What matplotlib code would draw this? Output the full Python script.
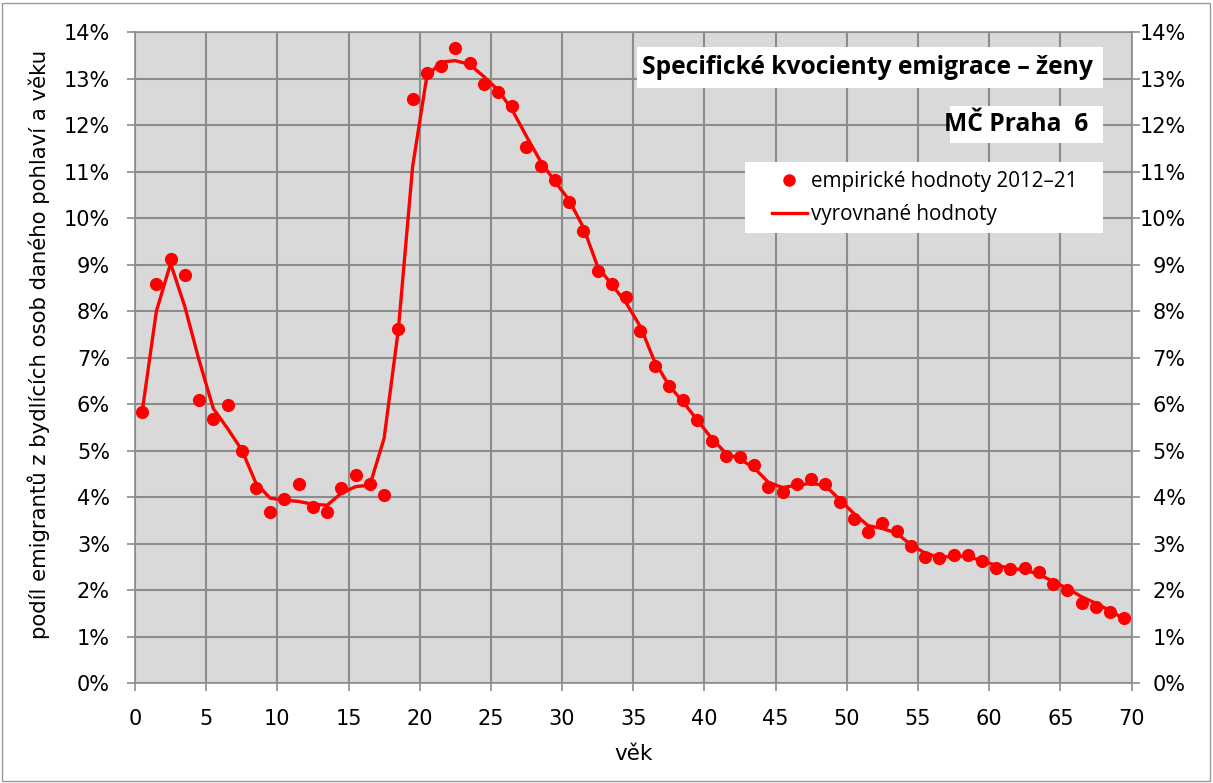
import matplotlib
matplotlib.use("Agg")
import matplotlib.pyplot as plt
from matplotlib.patches import Rectangle
from matplotlib.lines import Line2D
from matplotlib.ticker import FuncFormatter, MultipleLocator

ages = [a + 0.5 for a in range(70)]

empirical = [
    5.83, 8.58, 9.12, 8.77, 6.09, 5.68, 5.98, 4.99, 4.19, 3.69,
    3.96, 4.28, 3.80, 3.69, 4.19, 4.49, 4.28, 4.06, 7.61, 12.56,
    13.12, 13.28, 13.66, 13.33, 12.88, 12.72, 12.42, 11.53, 11.13, 10.83,
    10.34, 9.73, 8.87, 8.58, 8.31, 7.58, 6.83, 6.39, 6.09, 5.66,
    5.22, 4.89, 4.86, 4.70, 4.23, 4.12, 4.28, 4.39, 4.28, 3.89,
    3.53, 3.26, 3.45, 3.28, 2.96, 2.72, 2.70, 2.76, 2.76, 2.64,
    2.49, 2.46, 2.49, 2.39, 2.14, 2.01, 1.73, 1.65, 1.54, 1.40,
]

smoothed = [
    5.83, 8.00, 9.03, 8.10, 6.95, 5.91, 5.48, 5.02, 4.30, 3.98,
    3.94, 3.91, 3.85, 3.83, 4.09, 4.23, 4.26, 5.27, 7.61, 11.11,
    13.05, 13.36, 13.39, 13.31, 13.05, 12.76, 12.33, 11.76, 11.22, 10.79,
    10.39, 9.80, 8.96, 8.57, 8.18, 7.67, 6.92, 6.41, 6.05, 5.66,
    5.27, 4.95, 4.82, 4.63, 4.32, 4.21, 4.26, 4.30, 4.25, 3.95,
    3.65, 3.39, 3.33, 3.23, 2.98, 2.80, 2.71, 2.73, 2.73, 2.63,
    2.54, 2.47, 2.44, 2.34, 2.19, 2.04, 1.86, 1.72, 1.56, 1.38,
]

title = "Specifické kvocienty emigrace – ženy"
subtitle = "MČ Praha  6"
legend_labels = ["empirické hodnoty 2012–21", "vyrovnané hodnoty"]
xlabel = "věk"
ylabel = "podíl emigrantů z bydlících osob daného pohlaví a věku"

RED = "#ff0000"
GRID = "#8c8c8c"

W, H = 1213, 783
fig = plt.figure(figsize=(W / 100, H / 100), dpi=100)
fig.patch.set_facecolor("white")
fig.patches.append(Rectangle((2 / W, 2 / H), 1 - 5 / W, 1 - 5 / H, transform=fig.transFigure,
                             fill=False, edgecolor="#9a9a9a", linewidth=1.0))

left, right, bottom, top = 135 / W, 1131.5 / W, 1 - 683.3 / H, 1 - 32.3 / H
ax = fig.add_axes([left, bottom, right - left, top - bottom])
ax.set_facecolor("#d9d9d9")
ax.set_xlim(0, 70)
ax.set_ylim(0, 14)
ax.xaxis.set_major_locator(MultipleLocator(5))
ax.yaxis.set_major_locator(MultipleLocator(1))
ax.grid(True, color=GRID, linewidth=1.5)
ax.set_axisbelow(True)
for s in ax.spines.values():
    s.set_color(GRID)
    s.set_linewidth(1.2)

pct = FuncFormatter(lambda v, p: f"{int(round(v))}%")
ax.yaxis.set_major_formatter(pct)
ax.tick_params(axis="both", direction="out", length=6, color=GRID, labelsize=15, width=1.2)
ax.tick_params(axis="y", pad=12)
ax.tick_params(axis="x", pad=12.5)

ax2 = ax.twinx()
ax2.set_ylim(0, 14)
ax2.yaxis.set_major_locator(MultipleLocator(1))
ax2.yaxis.set_major_formatter(pct)
ax2.tick_params(axis="y", direction="out", length=6, color=GRID, labelsize=15, width=1.2, pad=33)
for s in ax2.spines.values():
    s.set_visible(False)

ax.plot(ages, smoothed, color=RED, linewidth=2.4, zorder=3)
ax.plot(ages, empirical, linestyle="none", marker="o", markersize=9.5, color=RED,
        markeredgewidth=0, zorder=4)

ax.set_xlabel(xlabel, fontsize=15.5)
ax.xaxis.set_label_coords(0.5, -0.094)
ax.set_ylabel(ylabel, fontsize=15.3)
ax.yaxis.set_label_coords(-0.0853, 0.521)

# title box
ax.add_patch(Rectangle((0.504, 0.914), 0.467, 0.063, transform=ax.transAxes,
                       facecolor="white", edgecolor="none", zorder=5))
ax.text(0.961, 0.9455, title, transform=ax.transAxes, ha="right", va="center",
        fontsize=17.7, fontweight="bold", family="Open Sans", zorder=6)

# subtitle box
ax.add_patch(Rectangle((0.8183, 0.8295), 0.1526, 0.0568, transform=ax.transAxes,
                       facecolor="white", edgecolor="none", zorder=5))
ax.text(0.9568, 0.858, subtitle, transform=ax.transAxes, ha="right", va="center",
        fontsize=17.7, fontweight="bold", family="Open Sans", zorder=6)

# legend box
ax.add_patch(Rectangle((0.6124, 0.6912), 0.3585, 0.1091, transform=ax.transAxes,
                       facecolor="white", edgecolor="none", zorder=5))
handles = [
    Line2D([], [], linestyle="none", marker="o", markersize=9, color=RED, markeredgewidth=0),
    Line2D([], [], color=RED, linewidth=2.4),
]
leg = ax.legend(handles, legend_labels, loc="center left", bbox_to_anchor=(0.6396, 0.7455),
                frameon=False, prop={"family": "Open Sans", "size": 14.9},
                handlelength=1.65, handletextpad=0.2, borderpad=0, borderaxespad=0,
                labelspacing=0.6)
leg.set_zorder(7)

fig.canvas.draw()
for t in ax2.get_yticklabels():
    t.set_horizontalalignment("right")

fig.savefig("out.png", dpi=100, facecolor="white")
